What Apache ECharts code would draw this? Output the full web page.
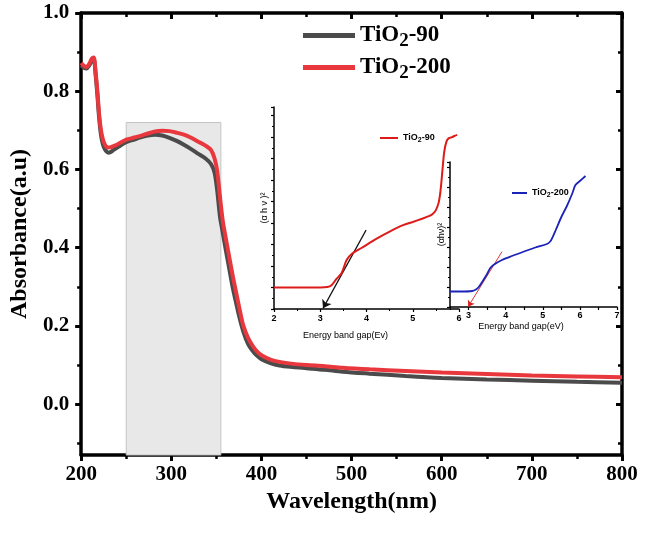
<!DOCTYPE html>
<html><head><meta charset="utf-8">
<script src="https://cdn.jsdelivr.net/npm/echarts@6/dist/echarts.min.js"></script>
<style>html,body{margin:0;padding:0;background:#fff}#c{width:646px;height:533px}</style>
</head><body><div id="c"></div>
<script>
// ---- main spectrum data ----
const wavelength = [200,203,206,209,212,214,216,218,220,222,224,226,228,230,233,236,240,245,250,258,266,274,282,290,298,306,314,322,330,338,344,348,351,354,357,360,364,368,372,376,380,385,390,395,400,410,420,435,450,470,490,520,560,600,650,700,750,800];
const absTiO2_90 = [0.866,0.860,0.858,0.866,0.879,0.881,0.843,0.790,0.730,0.688,0.665,0.653,0.646,0.643,0.645,0.650,0.656,0.663,0.670,0.676,0.682,0.687,0.689,0.687,0.681,0.673,0.663,0.652,0.640,0.628,0.614,0.592,0.545,0.480,0.440,0.400,0.350,0.300,0.258,0.218,0.185,0.155,0.137,0.124,0.115,0.105,0.099,0.095,0.092,0.088,0.083,0.078,0.072,0.067,0.063,0.060,0.057,0.055];
const absTiO2_200 = [0.872,0.865,0.862,0.870,0.884,0.886,0.850,0.800,0.740,0.700,0.678,0.665,0.658,0.656,0.657,0.660,0.664,0.670,0.676,0.681,0.686,0.692,0.697,0.699,0.698,0.694,0.689,0.681,0.671,0.661,0.650,0.628,0.595,0.530,0.470,0.430,0.380,0.330,0.285,0.240,0.200,0.170,0.150,0.135,0.125,0.114,0.108,0.103,0.100,0.097,0.093,0.089,0.085,0.081,0.077,0.073,0.071,0.069];
const seriesNames = ['TiO2-90','TiO2-200'];
const yMajorTicks = [0,0.2,0.4,0.6,0.8,1.0];
const yMinorTicks = [-0.1,0.1,0.3,0.5,0.7,0.9];
const shadedWavelength = [250,355];
const shadedTop = 0.72;

// ---- inset 1 (TiO2-90 Tauc plot) ----
const inset90Energy = [2.0,2.5,3.0,3.15,3.25,3.35,3.46,3.57,3.68,3.9,4.2,4.5,4.79,5.0,5.2,5.35,5.43,5.5,5.56,5.6,5.64,5.68,5.73,5.78,5.85,5.9,5.96];
const inset90Value  = [1.0,1.0,1.0,1.02,1.12,1.4,1.66,2.28,2.56,2.85,3.25,3.6,3.9,4.05,4.2,4.32,4.42,4.6,4.95,5.5,6.4,7.3,7.8,7.95,8.0,8.05,8.1];
const inset90Tangent = [[3.99,3.67],[3.06,0.03]];

// ---- inset 2 (TiO2-200 Tauc plot) ----
const inset200Energy = [2.5,2.8,3.1,3.2,3.27,3.4,3.5,3.58,3.67,3.9,4.17,4.5,4.8,5.11,5.2,5.25,5.35,5.5,5.65,5.8,5.88,6.0,6.15];
const inset200Value  = [1.55,1.55,1.6,1.75,1.97,2.7,3.3,3.87,4.2,4.7,5.1,5.55,5.95,6.3,6.55,6.87,7.7,9.0,10.1,11.4,12.2,12.6,13.1];
const inset200Tangent = [[3.9,5.53],[2.99,0.03]];
const inset200XTicks = [3,4,5,6,7];
const inset200XMinor = [2.5,3,3.5,4,4.5,5,5.5,6,6.5,7];

const serif = 'Liberation Serif';
const sans = 'Liberation Sans';
function zip(a,b){return a.map((v,i)=>[v,b[i]]);}
function richName(name){
  const m = name.match(/^TiO2(-\d+)/);
  return '{n|TiO}{s|2}{n|' + m[1] + '}';
}
const mainRich = {
  n:{fontFamily:serif,fontWeight:'bold',fontSize:23,color:'#000',lineHeight:24,verticalAlign:'middle'},
  s:{fontFamily:serif,fontWeight:'bold',fontSize:19,color:'#000',lineHeight:24,padding:[12,0,0,0],verticalAlign:'middle'}
};
const insetRich = {
  n:{fontFamily:sans,fontWeight:'bold',fontSize:9,color:'#000',lineHeight:10,verticalAlign:'middle'},
  s:{fontFamily:sans,fontWeight:'bold',fontSize:7,color:'#000',lineHeight:10,padding:[5,0,0,0],verticalAlign:'middle'}
};

const mainLabel = {fontFamily:serif,fontWeight:'bold',fontSize:21,color:'#000'};
const thickLine = {color:'#000',width:3.5};

const chart = echarts.init(document.getElementById('c'),null,{renderer:'canvas'});
chart.setOption({
  animation:false,
  backgroundColor:'#fff',
  grid:[
    {left:73,right:24,top:13,bottom:78},
    {left:274,top:107,width:185,height:202},
    {left:450,top:162,width:167,height:145}
  ],
  legend:[
    {data:seriesNames,orient:'vertical',left:303,top:20,padding:0,itemGap:1,itemWidth:52,itemHeight:5,icon:'rect',
     formatter:richName,textStyle:{rich:mainRich}},
    {data:['TiO2-90 inset'],left:380,top:132,padding:0,itemWidth:18,itemHeight:2,icon:'rect',itemGap:0,
     formatter:richName,textStyle:{rich:insetRich}},
    {data:['TiO2-200 inset'],left:512,top:187,padding:0,itemWidth:15,itemHeight:2,icon:'rect',itemGap:0,
     formatter:richName,textStyle:{rich:insetRich}}
  ],
  xAxis:[
    {gridIndex:0,type:'value',position:'bottom',min:200,max:800,interval:100,
     name:'Wavelength(nm)',nameLocation:'middle',nameGap:26,
     nameTextStyle:{fontFamily:serif,fontWeight:'bold',fontSize:24,color:'#000'},
     axisLine:{onZero:false,lineStyle:thickLine},
     axisTick:{inside:false,length:6,lineStyle:{color:'#000',width:3}},
     minorTick:{show:true,splitNumber:2,length:4,lineStyle:{color:'#000',width:2.5}},
     axisLabel:Object.assign({margin:9},mainLabel),splitLine:{show:false}},
    {gridIndex:0,type:'value',position:'top',min:200,max:800,interval:100,
     axisLine:{onZero:false,lineStyle:thickLine},
     axisTick:{inside:true,length:6,lineStyle:{color:'#000',width:3}},
     minorTick:{show:true,splitNumber:2,length:4,lineStyle:{color:'#000',width:2.5}},
     axisLabel:{show:false},splitLine:{show:false}},
    {gridIndex:1,type:'value',min:2,max:6,interval:1,
     name:'Energy band gap(Ev)',nameLocation:'middle',nameGap:22,
     nameTextStyle:{fontFamily:sans,fontSize:9,color:'#000',padding:[0,42,0,0]},
     axisLine:{onZero:false,lineStyle:{color:'#000',width:1.5}},
     axisTick:{inside:false,length:3,lineStyle:{color:'#000',width:1.2}},
     minorTick:{show:true,splitNumber:2,length:2,lineStyle:{color:'#000',width:1}},
     axisLabel:{fontFamily:sans,fontWeight:'bold',fontSize:9,color:'#000',margin:5},splitLine:{show:false}},
    {gridIndex:2,type:'value',min:2.5,max:7,
     name:'Energy band gap(eV)',nameLocation:'middle',nameGap:15,
     nameTextStyle:{fontFamily:sans,fontSize:9,color:'#000',padding:[0,25,0,0]},
     axisLine:{onZero:false,lineStyle:{color:'#000',width:1.5}},
     axisTick:{inside:false,length:3,customValues:inset200XMinor,lineStyle:{color:'#000',width:1.2}},
     axisLabel:{customValues:inset200XTicks,fontFamily:sans,fontWeight:'bold',fontSize:9,color:'#000',margin:4},splitLine:{show:false}}
  ],
  yAxis:[
    {gridIndex:0,type:'value',position:'left',min:-0.13,max:1.0,
     name:'Absorbance(a.u)',nameLocation:'middle',nameGap:46,
     nameTextStyle:{fontFamily:serif,fontWeight:'bold',fontSize:24,color:'#000'},
     axisLine:{onZero:false,lineStyle:thickLine},
     axisTick:{inside:false,length:6,customValues:yMajorTicks,lineStyle:{color:'#000',width:3}},
     axisLabel:Object.assign({margin:12,customValues:yMajorTicks,formatter:v=>v.toFixed(1)},mainLabel),
     splitLine:{show:false}},
    {gridIndex:0,type:'value',position:'left',min:-0.13,max:1.0,
     axisLine:{show:false,onZero:false},
     axisTick:{inside:false,length:4,customValues:yMinorTicks,lineStyle:{color:'#000',width:2.5}},
     axisLabel:{show:false},splitLine:{show:false}},
    {gridIndex:0,type:'value',position:'right',min:-0.13,max:1.0,
     axisLine:{onZero:false,lineStyle:thickLine},
     axisTick:{inside:true,length:6,customValues:yMajorTicks,lineStyle:{color:'#000',width:3}},
     axisLabel:{show:false},splitLine:{show:false}},
    {gridIndex:0,type:'value',position:'right',min:-0.13,max:1.0,
     axisLine:{show:false,onZero:false},
     axisTick:{inside:true,length:4,customValues:yMinorTicks,lineStyle:{color:'#000',width:2.5}},
     axisLabel:{show:false},splitLine:{show:false}},
    {gridIndex:1,type:'value',min:0,max:9.4,interval:1,
     name:'(α h ν )²',nameLocation:'middle',nameGap:5,
     nameTextStyle:{fontFamily:sans,fontSize:9,color:'#000'},
     axisLine:{onZero:false,lineStyle:{color:'#000',width:1.5}},
     axisTick:{inside:false,length:3,lineStyle:{color:'#000',width:1.2}},
     minorTick:{show:true,splitNumber:2,length:2,lineStyle:{color:'#000',width:1}},
     axisLabel:{show:false},splitLine:{show:false}},
    {gridIndex:2,type:'value',min:0,max:14.5,interval:2,
     name:'(αhν)²',nameLocation:'middle',nameGap:4,
     nameTextStyle:{fontFamily:sans,fontSize:9,color:'#000'},
     axisLine:{onZero:false,lineStyle:{color:'#000',width:1.5}},
     axisTick:{inside:false,length:3,lineStyle:{color:'#000',width:1.2}},
     minorTick:{show:true,splitNumber:2,length:2,lineStyle:{color:'#000',width:1}},
     axisLabel:{show:false},splitLine:{show:false}}
  ],
  series:[
    {type:'line',name:'shade',xAxisIndex:0,yAxisIndex:0,data:[],z:1,silent:true,
     markArea:{silent:true,itemStyle:{color:'#e8e8e8',borderColor:'#c4c4c4',borderWidth:1},
       data:[[{coord:[shadedWavelength[0],-0.13]},{coord:[shadedWavelength[1],shadedTop]}]]}},
    {type:'line',name:seriesNames[0],xAxisIndex:0,yAxisIndex:0,data:zip(wavelength,absTiO2_90),
     showSymbol:false,symbol:'none',smooth:0.3,color:'#4b4b4b',lineStyle:{width:4,color:'#4b4b4b'},z:3},
    {type:'line',name:seriesNames[1],xAxisIndex:0,yAxisIndex:0,data:zip(wavelength,absTiO2_200),
     showSymbol:false,symbol:'none',smooth:0.3,color:'#e8383d',lineStyle:{width:4,color:'#e8383d'},z:4},
    {type:'line',name:'TiO2-90 inset',xAxisIndex:2,yAxisIndex:4,data:zip(inset90Energy,inset90Value),
     showSymbol:false,symbol:'none',smooth:0.3,color:'#dd1c1a',lineStyle:{width:2,color:'#dd1c1a'},z:5,
     markLine:{silent:true,symbol:['none','arrow'],symbolSize:8,label:{show:false},
       lineStyle:{color:'#111',width:1.2,type:'solid'},
       data:[[{coord:inset90Tangent[0]},{coord:inset90Tangent[1]}]]}},
    {type:'line',name:'TiO2-200 inset',xAxisIndex:3,yAxisIndex:5,data:zip(inset200Energy,inset200Value),
     showSymbol:false,symbol:'none',smooth:0.3,color:'#1b22b8',lineStyle:{width:1.8,color:'#1b22b8'},z:5,
     markLine:{silent:true,symbol:['none','arrow'],symbolSize:6,label:{show:false},
       lineStyle:{color:'#d6221c',width:0.9,type:'solid'},
       data:[[{coord:inset200Tangent[0]},{coord:inset200Tangent[1]}]]}}
  ]
});
</script>
</body></html>
